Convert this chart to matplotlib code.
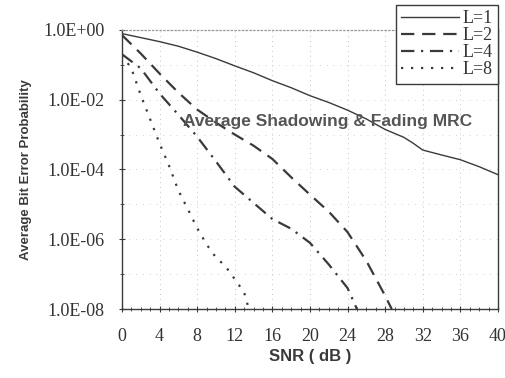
import matplotlib
matplotlib.use("Agg")
import matplotlib.pyplot as plt
from matplotlib.ticker import FixedLocator, FuncFormatter, MultipleLocator

# SNR (dB) and average bit error probability
snr_l1 = [0, 2, 4, 6, 8, 10, 12, 14, 16, 18, 20, 22, 24, 26, 28, 30, 31, 32, 34, 36, 38, 40]
ber_l1 = [7.8e-1, 6.0e-1, 4.6e-1, 3.4e-1, 2.3e-1, 1.5e-1, 9.3e-2, 5.9e-2, 3.5e-2, 2.2e-2,
          1.3e-2, 8.3e-3, 5.0e-3, 2.8e-3, 1.4e-3, 8.3e-4, 5.6e-4, 3.6e-4, 2.6e-4, 1.9e-4,
          1.2e-4, 7.1e-5]

snr_l2 = [0, 2, 4, 6, 8, 10, 12, 14, 16, 18, 20, 22, 24, 26, 28, 28.7]
ber_l2 = [7.1e-1, 2.1e-1, 5.6e-2, 1.6e-2, 5.2e-3, 2.2e-3, 1.0e-3, 4.8e-4, 2.0e-4, 6.0e-5,
          1.9e-5, 6.2e-6, 1.6e-6, 2.4e-7, 2.4e-8, 1.0e-8]

snr_l4 = [0, 2, 4, 6, 8, 10, 12, 14, 16, 18, 20, 22, 24, 25]
ber_l4 = [2.0e-1, 7.9e-2, 1.5e-2, 3.7e-3, 8.7e-4, 1.7e-4, 3.2e-5, 1.1e-5, 3.8e-6, 2.0e-6,
          7.9e-7, 1.9e-7, 4.0e-8, 1.0e-8]

snr_l8 = [0, 1, 2, 3, 4, 5, 6, 7, 8, 9, 10, 11, 12, 13, 13.5]
ber_l8 = [1.9e-1, 7.9e-2, 1.35e-2, 2.75e-3, 5.6e-4, 1.3e-4, 2.5e-5, 7.4e-6, 2.1e-6, 7.1e-7,
          3.0e-7, 1.7e-7, 7.2e-8, 3.0e-8, 1.0e-8]

labels = ["L=1", "L=2", "L=4", "L=8"]
x_ticks = [0, 4, 8, 12, 16, 20, 24, 28, 32, 36, 40]
y_ticks = [1e0, 1e-2, 1e-4, 1e-6, 1e-8]

ink = "#3a3a3a"
serif = "Liberation Serif"
sans = "Liberation Sans"

fig = plt.figure(figsize=(5.06, 3.78), dpi=100)
ax = fig.add_axes([0.241, 0.1825, 0.743, 0.7385])

ax.plot(snr_l1, ber_l1, color=ink, lw=1.0, ls="-", label=labels[0])
ax.plot(snr_l2, ber_l2, color=ink, lw=1.6, ls=(0, (6, 3.5)), label=labels[1])
ax.plot(snr_l4, ber_l4, color=ink, lw=1.6, ls=(0, (6, 3, 1, 3)), label=labels[2])
ax.plot(snr_l8, ber_l8, color=ink, lw=1.6, ls=(0, (1, 3.5)), label=labels[3])

ax.set_yscale("log")
ax.set_xlim(0, 40)
ax.set_ylim(1e-8, 1e0)

ax.xaxis.set_major_locator(FixedLocator(x_ticks))
ax.xaxis.set_minor_locator(MultipleLocator(1))
ax.yaxis.set_major_locator(FixedLocator(y_ticks))
ax.yaxis.set_minor_locator(FixedLocator([1e-1, 1e-3, 1e-5, 1e-7]))
ax.yaxis.set_major_formatter(FuncFormatter(lambda v, p: "%.1E" % v))
ax.yaxis.set_minor_formatter(FuncFormatter(lambda v, p: ""))

ax.tick_params(axis="both", which="major", direction="inout", length=5, width=0.8,
               color=ink, labelcolor="#333333")
ax.tick_params(axis="both", which="minor", direction="inout", length=3, width=0.6,
               color=ink)
ax.tick_params(axis="x", which="major", pad=11)
ax.tick_params(axis="y", which="major", pad=10)
for lab in ax.get_xticklabels() + ax.get_yticklabels():
    lab.set_fontfamily(serif)
    lab.set_fontsize(13)

# faint dotted grid
ax.grid(True, which="major", axis="x", ls=(0, (1, 4)), lw=0.7, color="#c4c4c4")
ax.grid(True, which="both", axis="y", ls=(0, (1, 6)), lw=0.7, color="#d2d2d2")

for side in ["left", "bottom", "right"]:
    ax.spines[side].set_color(ink)
    ax.spines[side].set_linewidth(1.0)
ax.spines["top"].set_color("#999999")
ax.spines["top"].set_linestyle((0, (1, 2)))
ax.spines["top"].set_linewidth(0.9)

ax.set_xlabel("SNR ( dB )", fontsize=12, fontweight="bold", family=sans,
              color="#3a3a3a", labelpad=3)
ax.set_ylabel("Average Bit Error Probability", fontsize=9.5, fontweight="bold",
              family=sans, color="#3a3a3a", labelpad=8)

ax.text(21.9, 2.3e-3, "Average Shadowing & Fading MRC", ha="center", va="center",
        fontsize=12.5, fontweight="bold", family=sans, color="#555555")

leg = fig.legend(loc="upper right", bbox_to_anchor=(498 / 506, 1 - 5 / 378),
                 prop={"family": serif, "size": 13}, handlelength=3.2,
                 handletextpad=0.2, labelspacing=0.0, borderpad=0.3,
                 fancybox=False, framealpha=1, edgecolor=ink, borderaxespad=0)
leg.get_frame().set_linewidth(1.0)
for t in leg.get_texts():
    t.set_color("#333333")

fig.savefig("out.png", dpi=100, facecolor="white")
